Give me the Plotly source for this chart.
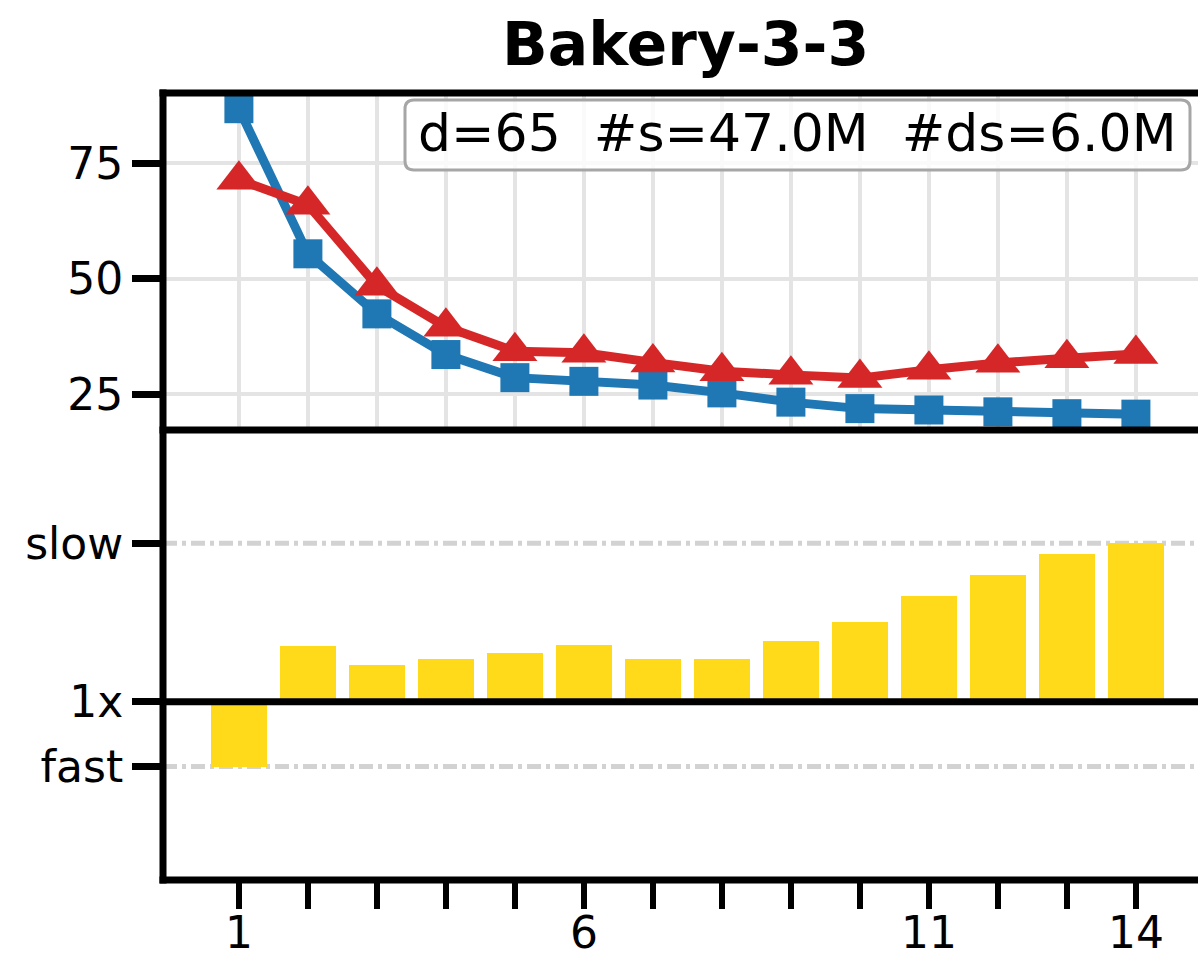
import plotly.graph_objects as go

# Data
steps = list(range(1, 15))
blue_vals = [86.8, 55.4, 42.4, 33.6, 28.6, 27.8, 27.0, 25.3, 23.3, 21.9, 21.6, 21.2, 20.8, 20.7]
red_vals = [71.4, 66.0, 48.5, 39.6, 34.3, 34.0, 31.9, 30.0, 29.2, 28.5, 30.3, 31.8, 32.8, 33.7]
# relative time, 0 = same speed (1x), positive = slower, negative = faster
rel_time = [-0.41, 0.35, 0.23, 0.27, 0.31, 0.36, 0.27, 0.27, 0.38, 0.50, 0.67, 0.80, 0.93, 1.0]
slow_level = 1.0
fast_level = -0.41
top_ticks = [25, 50, 75]
x_tick_text = {1: "1", 6: "6", 11: "11", 14: "14"}
title_text = "Bakery-3-3"
info_text = "d=65  #s=47.0M  #ds=6.0M"

W, H = 1198, 957
ML, MR, MT, MB = 163, 0, 93, 77
PW, PH = W - ML - MR, H - MT - MB
split = (880 - 430) / PH  # boundary between the two panels (paper y)

FONT = "DejaVu Sans"
BLUE = "#1f77b4"
RED = "#d62728"
GOLD = "#FEDA1A"

fig = go.Figure()

fig.add_trace(go.Scatter(
    x=steps, y=blue_vals, mode="lines+markers",
    line=dict(color=BLUE, width=9),
    marker=dict(symbol="square", size=29, color=BLUE),
    xaxis="x", yaxis="y", showlegend=False,
))
fig.add_trace(go.Scatter(
    x=steps, y=red_vals, mode="lines+markers",
    line=dict(color=RED, width=9),
    marker=dict(symbol="triangle-up", size=39, color=RED),
    xaxis="x", yaxis="y", showlegend=False,
))
fig.add_trace(go.Bar(
    x=steps, y=rel_time, width=0.8, marker=dict(color=GOLD, line=dict(width=0)),
    xaxis="x2", yaxis="y2", showlegend=False,
))

xrange = [-0.1, 14.9]
tick_font = dict(family=FONT, size=44, color="black")

fig.update_layout(
    width=W, height=H,
    margin=dict(l=ML, r=MR, t=MT, b=MB, autoexpand=False),
    paper_bgcolor="white", plot_bgcolor="white",
    font=dict(family=FONT, color="black"),
    bargap=0,
    xaxis=dict(
        domain=[0, 1], anchor="y", range=xrange, automargin=False,
        tickvals=steps, showticklabels=False, ticks="",
        showgrid=True, gridcolor="#e4e4e4", gridwidth=4,
        zeroline=False, showline=False,
    ),
    yaxis=dict(
        domain=[split, 1], anchor="x", range=[17.27, 90.2], automargin=False,
        tickvals=top_ticks, ticks="outside", ticklen=30, tickwidth=7,
        tickcolor="black", tickfont=tick_font,
        showgrid=True, gridcolor="#e4e4e4", gridwidth=4,
        zeroline=False, showline=False,
    ),
    xaxis2=dict(
        domain=[0, 1], anchor="y2", range=xrange, automargin=False,
        tickvals=steps, ticktext=[x_tick_text.get(s, "") for s in steps],
        ticks="outside", ticklen=28, tickwidth=6, tickcolor="black",
        ticklabelstandoff=-14,
        tickfont=tick_font, showgrid=False, zeroline=False, showline=False,
    ),
    yaxis2=dict(
        domain=[0, split], anchor="x2", range=[-1.126, 1.715], automargin=False,
        tickvals=[fast_level, 0, slow_level], ticktext=["fast", "1x", "slow"],
        ticks="outside", ticklen=30, tickwidth=7, tickcolor="black",
        tickfont=tick_font, showgrid=False, zeroline=False, showline=False,
    ),
)

shapes = []
# reference levels in the lower panel
for lvl in (slow_level, fast_level):
    shapes.append(dict(
        type="line", xref="paper", yref="y2", x0=0, x1=1, y0=lvl, y1=lvl,
        line=dict(color="#d2d2d2", width=5, dash="14px,5px,4px,5px"), layer="below",
    ))
# baseline at 1x
shapes.append(dict(
    type="line", xref="paper", yref="y2", x0=0, x1=1, y0=0, y1=0,
    line=dict(color="black", width=7), layer="above",
))
# frame lines
ex = 3.5 / PW
ey = 3.5 / PH
for yy in (0, split, 1):
    shapes.append(dict(
        type="line", xref="paper", yref="paper", x0=-ex, x1=1, y0=yy, y1=yy,
        line=dict(color="black", width=7), layer="above",
    ))
shapes.append(dict(
    type="line", xref="paper", yref="paper", x0=0, x1=0, y0=-ey, y1=1 + ey,
    line=dict(color="black", width=7), layer="above",
))

# rounded info box
def px_to_paper(px, py):
    return (px - ML) / PW, 1 - (py - MT) / PH

bx0, by0, bx1, by1, r = 405, 100, 1190, 170, 9
def pt(px, py):
    a, b = px_to_paper(px, py)
    return f"{a:.5f},{b:.5f}"

path = (
    f"M {pt(bx0 + r, by0)} L {pt(bx1 - r, by0)} Q {pt(bx1, by0)} {pt(bx1, by0 + r)} "
    f"L {pt(bx1, by1 - r)} Q {pt(bx1, by1)} {pt(bx1 - r, by1)} "
    f"L {pt(bx0 + r, by1)} Q {pt(bx0, by1)} {pt(bx0, by1 - r)} "
    f"L {pt(bx0, by0 + r)} Q {pt(bx0, by0)} {pt(bx0 + r, by0)} Z"
)
shapes.append(dict(
    type="path", xref="paper", yref="paper", path=path,
    fillcolor="rgba(255,255,255,0.8)", line=dict(color="#a6a6a6", width=3),
    layer="above",
))
fig.update_layout(shapes=shapes)

tx, ty = px_to_paper(797.5, 133)
fig.add_annotation(
    x=tx, y=ty, xref="paper", yref="paper", text=info_text, showarrow=False,
    xanchor="center", yanchor="middle", font=dict(family=FONT, size=52, color="black"),
)
hx, hy = px_to_paper(685.5, 44)
fig.add_annotation(
    x=hx, y=hy, xref="paper", yref="paper", text=f"<b>{title_text}</b>", showarrow=False,
    xanchor="center", yanchor="middle", font=dict(family=FONT, size=60, color="black"),
)

fig.write_html("out.html")
